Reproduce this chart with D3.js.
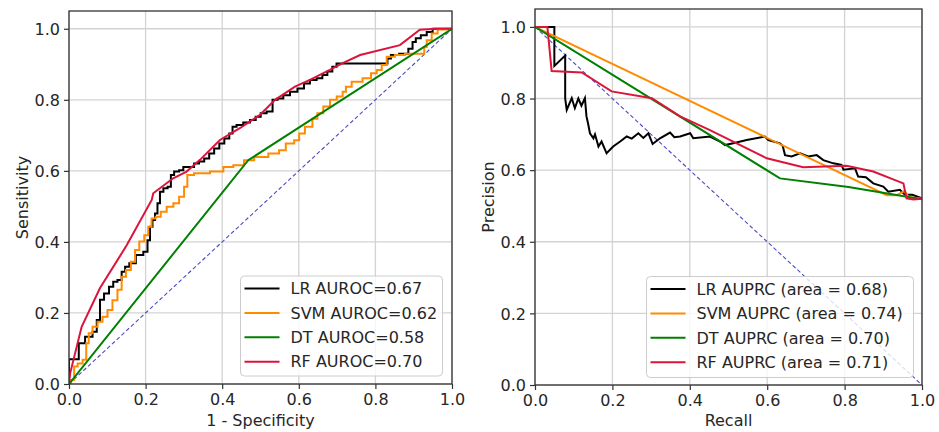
<!DOCTYPE html>
<html>
<head>
<meta charset="utf-8">
<script src="https://cdn.jsdelivr.net/npm/d3@7"></script>
<style>
  body { margin: 0; background: #fff; }
  svg { display: block; }
  text { font-family: "DejaVu Sans", sans-serif; fill: #262626; }
</style>
</head>
<body>
<svg id="chart" width="939" height="432"></svg>
<script>
// ---------- data ----------
const tickValues = [0, 0.2, 0.4, 0.6, 0.8, 1.0];
const seriesNames = ["LR", "SVM", "DT", "RF"];
const seriesColors = ["#000000", "#ff8c00", "#008000", "#dc143c"];
const rocLabels = ["LR AUROC=0.67", "SVM AUROC=0.62", "DT AUROC=0.58", "RF AUROC=0.70"];
const prLabels = ["LR AUPRC (area = 0.68)", "SVM AUPRC (area = 0.74)", "DT AUPRC (area = 0.70)", "RF AUPRC (area = 0.71)"];

const rocLR = [[0,0],[0,0.07],[0.022,0.07],[0.029,0.115],[0.055,0.133],[0.068,0.147],[0.077,0.18],[0.085,0.237],[0.098,0.255],[0.111,0.274],[0.12,0.288],[0.133,0.293],[0.142,0.316],[0.151,0.33],[0.164,0.34],[0.185,0.363],[0.203,0.372],[0.207,0.405],[0.216,0.443],[0.22,0.462],[0.229,0.48],[0.233,0.509],[0.242,0.541],[0.251,0.551],[0.264,0.555],[0.268,0.588],[0.281,0.598],[0.294,0.602],[0.303,0.611],[0.32,0.611],[0.333,0.621],[0.346,0.626],[0.36,0.635],[0.372,0.649],[0.386,0.663],[0.399,0.677],[0.412,0.691],[0.425,0.705],[0.429,0.724],[0.446,0.729],[0.464,0.736],[0.481,0.743],[0.494,0.752],[0.507,0.762],[0.525,0.767],[0.538,0.8],[0.551,0.804],[0.568,0.813],[0.586,0.823],[0.607,0.832],[0.62,0.846],[0.638,0.856],[0.655,0.861],[0.668,0.87],[0.681,0.88],[0.694,0.893],[0.703,0.902],[0.829,0.902],[0.834,0.916],[0.847,0.926],[0.877,0.93],[0.895,0.944],[0.899,0.963],[0.912,0.973],[0.925,0.982],[0.943,0.991],[0.956,1.0],[1,1]];
const rocSVM = [[0,0],[0.011,0.011],[0.016,0.049],[0.029,0.058],[0.042,0.068],[0.048,0.115],[0.055,0.143],[0.068,0.161],[0.081,0.175],[0.094,0.189],[0.107,0.208],[0.12,0.236],[0.133,0.265],[0.142,0.302],[0.155,0.321],[0.168,0.344],[0.177,0.377],[0.19,0.401],[0.203,0.419],[0.211,0.443],[0.22,0.466],[0.233,0.471],[0.246,0.485],[0.264,0.499],[0.281,0.509],[0.294,0.527],[0.307,0.555],[0.311,0.588],[0.342,0.593],[0.394,0.598],[0.412,0.611],[0.446,0.616],[0.468,0.63],[0.499,0.639],[0.542,0.649],[0.555,0.658],[0.577,0.677],[0.599,0.686],[0.603,0.705],[0.629,0.724],[0.642,0.747],[0.655,0.762],[0.673,0.781],[0.69,0.8],[0.708,0.809],[0.721,0.823],[0.725,0.837],[0.751,0.851],[0.782,0.861],[0.795,0.875],[0.812,0.884],[0.821,0.898],[0.838,0.921],[0.864,0.926],[0.89,0.93],[0.925,0.93],[0.93,0.949],[0.938,0.968],[0.956,0.987],[0.969,0.998],[1,1]];
const rocDT = [[0,0],[0.468,0.63],[1,1]];
const rocRF = [[0,0],[0.003,0.03],[0.033,0.161],[0.081,0.27],[0.151,0.391],[0.216,0.518],[0.22,0.537],[0.272,0.579],[0.307,0.598],[0.342,0.631],[0.394,0.687],[0.446,0.72],[0.499,0.758],[0.538,0.8],[0.59,0.837],[0.629,0.856],[0.681,0.884],[0.712,0.902],[0.76,0.926],[0.864,0.954],[0.916,0.997],[0.96,1.0],[1,1]];

const prLR = [[0,1],[0.05,1],[0.05,0.891],[0.078,0.92],[0.078,0.80],[0.082,0.768],[0.095,0.801],[0.103,0.773],[0.112,0.80],[0.12,0.78],[0.129,0.801],[0.133,0.75],[0.137,0.731],[0.142,0.703],[0.151,0.689],[0.155,0.70],[0.164,0.666],[0.172,0.68],[0.185,0.647],[0.202,0.666],[0.22,0.68],[0.237,0.694],[0.25,0.688],[0.267,0.703],[0.28,0.69],[0.293,0.703],[0.304,0.673],[0.323,0.689],[0.349,0.705],[0.36,0.692],[0.375,0.694],[0.401,0.703],[0.409,0.689],[0.452,0.694],[0.478,0.68],[0.491,0.67],[0.512,0.675],[0.547,0.684],[0.594,0.694],[0.603,0.684],[0.633,0.675],[0.64,0.668],[0.646,0.642],[0.663,0.638],[0.685,0.647],[0.706,0.638],[0.728,0.642],[0.745,0.628],[0.771,0.619],[0.792,0.615],[0.797,0.601],[0.827,0.605],[0.835,0.582],[0.855,0.58],[0.874,0.563],[0.9,0.554],[0.913,0.54],[0.943,0.545],[0.956,0.531],[0.975,0.531],[1,0.521]];
const prSVM = [[0,1],[0.909,0.53],[0.935,0.53],[0.955,0.542],[0.965,0.525],[1,0.52]];
const prDT = [[0,1],[0.633,0.577],[0.81,0.553],[1,0.519]];
const prRF = [[0,1],[0.032,1.0],[0.043,0.877],[0.121,0.873],[0.198,0.82],[0.302,0.801],[0.375,0.75],[0.452,0.712],[0.599,0.633],[0.693,0.608],[0.805,0.612],[0.874,0.596],[0.952,0.563],[0.96,0.521],[0.978,0.518],[1,0.52]];

const rocDiag = [[0,0],[1,1]];
const prDiag = [[0,1],[1,0]];

// ---------- drawing ----------
const svg = d3.select("#chart");
const fmt = d3.format(".1f");

function panel(opts) {
  const x = d3.scaleLinear().domain([0, 1]).range([opts.x0, opts.x1]);
  const y = d3.scaleLinear().domain([0, 1.05]).range([opts.y0, opts.yTop]);
  const g = svg.append("g");

  // grid
  g.append("g").selectAll("line.gx").data(tickValues).join("line")
    .attr("x1", d => x(d)).attr("x2", d => x(d))
    .attr("y1", y(0)).attr("y2", y(1.05))
    .attr("stroke", "#d3d3d3").attr("stroke-width", 1.3);
  g.append("g").selectAll("line.gy").data(tickValues).join("line")
    .attr("x1", x(0)).attr("x2", x(1))
    .attr("y1", d => y(d)).attr("y2", d => y(d))
    .attr("stroke", "#d3d3d3").attr("stroke-width", 1.3);

  // curves
  const clipId = "clip" + opts.id;
  svg.append("clipPath").attr("id", clipId).append("rect")
    .attr("x", x(0)).attr("y", y(1.05)).attr("width", x(1) - x(0)).attr("height", y(0) - y(1.05));
  const cg = g.append("g").attr("clip-path", `url(#${clipId})`);

  cg.append("path").datum(opts.diag)
    .attr("d", d3.line().x(d => x(d[0])).y(d => y(d[1])))
    .attr("fill", "none").attr("stroke", "#4b4bc4").attr("stroke-width", 1.1)
    .attr("stroke-dasharray", "4,2.5");

  opts.series.forEach((s, i) => {
    cg.append("path").datum(s)
      .attr("d", d3.line().x(d => x(d[0])).y(d => y(d[1])).curve(opts.curves[i]))
      .attr("fill", "none").attr("stroke", seriesColors[i]).attr("stroke-width", 2)
      .attr("stroke-linejoin", "miter");
  });

  // axes
  const xa = g.append("g").attr("transform", `translate(0,${y(0)})`)
    .call(d3.axisBottom(x).tickValues(tickValues).tickFormat(fmt).tickSize(5).tickPadding(4));
  const ya = g.append("g").attr("transform", `translate(${x(0)},0)`)
    .call(d3.axisLeft(y).tickValues(tickValues).tickFormat(fmt).tickSize(5).tickPadding(4));
  [xa, ya].forEach(a => {
    a.select(".domain").remove();
    a.selectAll(".tick line").attr("stroke", "#333").attr("stroke-width", 1.2);
    a.selectAll("text").style("font-size", "16px").style("font-family", "DejaVu Sans").attr("fill", "#262626");
  });
  xa.selectAll("text").attr("dy", null).attr("y", 21);
  ya.selectAll("text").attr("dy", "0.36em");

  // frame
  g.append("rect").attr("x", x(0)).attr("y", y(1.05))
    .attr("width", x(1) - x(0)).attr("height", y(0) - y(1.05))
    .attr("fill", "none").attr("stroke", "#333").attr("stroke-width", 1.3);

  // axis titles
  g.append("text").attr("x", (x(0) + x(1)) / 2).attr("y", 426)
    .attr("text-anchor", "middle").style("font-size", "16px").text(opts.xTitle);
  g.append("text").attr("transform", `translate(${opts.yTitleX},${(y(0) + y(1.05)) / 2}) rotate(-90)`)
    .attr("text-anchor", "middle").style("font-size", "16px").text(opts.yTitle);

  // legend
  const L = opts.legend;
  const lg = g.append("g");
  lg.append("rect").attr("x", L.x).attr("y", L.y).attr("width", L.w).attr("height", L.h)
    .attr("rx", 4).attr("fill", "#fff").attr("fill-opacity", 0.8)
    .attr("stroke", "#cccccc").attr("stroke-width", 1);
  opts.labels.forEach((lab, i) => {
    const yy = L.y + 12.5 + i * 24.4;
    lg.append("line").attr("x1", L.x + 4).attr("x2", L.x + 39)
      .attr("y1", yy).attr("y2", yy).attr("stroke", seriesColors[i]).attr("stroke-width", 2);
    lg.append("text").attr("x", L.x + 50).attr("y", yy).attr("dy", "0.36em")
      .style("font-size", "16px").text(lab);
  });
}

panel({
  id: "roc", x0: 69, x1: 452, y0: 384, yTop: 11,
  series: [rocLR, rocSVM, rocDT, rocRF],
  curves: [d3.curveStep, d3.curveStep, d3.curveLinear, d3.curveLinear],
  diag: rocDiag,
  xTitle: "1 - Specificity", yTitle: "Sensitivity", yTitleX: 28,
  labels: rocLabels,
  legend: { x: 240.5, y: 276, w: 202, h: 100 }
});

panel({
  id: "pr", x0: 535, x1: 922, y0: 385, yTop: 9,
  series: [prLR, prSVM, prDT, prRF],
  curves: [d3.curveLinear, d3.curveLinear, d3.curveLinear, d3.curveLinear],
  diag: prDiag,
  xTitle: "Recall", yTitle: "Precision", yTitleX: 494,
  labels: prLabels,
  legend: { x: 646.5, y: 276.5, w: 267, h: 101 }
});
</script>
</body>
</html>
